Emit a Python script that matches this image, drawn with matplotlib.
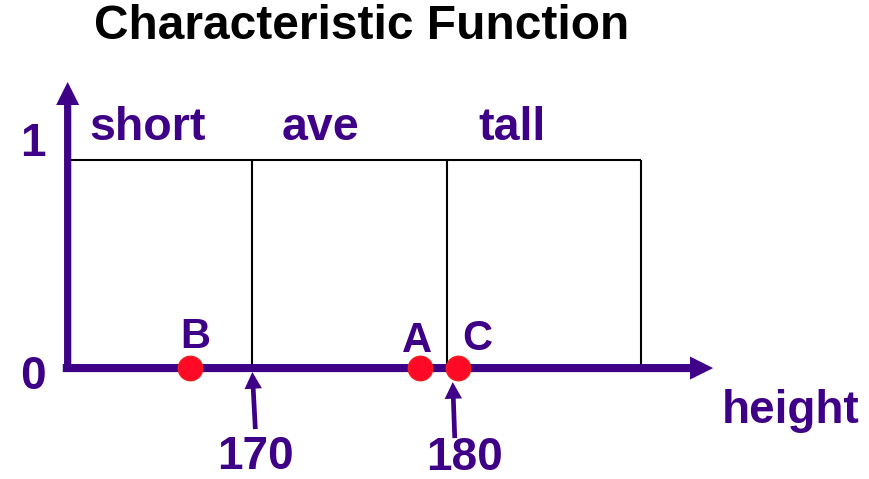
import matplotlib
matplotlib.use("Agg")
import matplotlib.pyplot as plt
from matplotlib.patches import FancyArrowPatch
from matplotlib.transforms import offset_copy

# ---- data -------------------------------------------------------------
categories = ["short", "ave", "tall"]
bin_edges = [160.5, 170, 180, 190]          # height bins (cm); first edge is the axis origin
edge_labels = ["170", "180"]                 # boundaries marked under the axis
edge_label_values = [170, 180]
point_names = ["B", "A", "C"]
point_heights = [166.8, 178.6, 180.6]
point_values = [0, 0, 0]
y_ticks = [0, 1]
y_tick_labels = ["0", "1"]
x_axis_end = 193.7
y_axis_end = 1.372

# ---- style ------------------------------------------------------------
PURPLE = "#3f0088"
RED = "#ff0a26"
FONT = "Liberation Sans"

fig = plt.figure(figsize=(8.69, 4.79), dpi=100)
ax = fig.add_axes([0, 0, 1, 1])
ax.set_xlim(157.02, 201.72)
ax.set_ylim(-0.532, 1.765)
ax.axis("off")


def px(dx, dy):
    """Transform: data coordinates shifted by (dx, dy) pixels."""
    return offset_copy(ax.transData, fig=fig, x=dx, y=dy, units="dots")


def arrow(start, end, tail_w, head_w, head_l, zorder=3):
    style = f"simple,head_length={head_l},head_width={head_w},tail_width={tail_w}"
    p = FancyArrowPatch(start, end, arrowstyle=style, mutation_scale=1,
                        shrinkA=0, shrinkB=0, color=PURPLE, lw=0, zorder=zorder)
    ax.add_patch(p)


# characteristic function boxes (value 1 across each bin)
origin = bin_edges[0]
ax.plot([bin_edges[0], bin_edges[-1]], [1, 1], color="black", lw=1.5, zorder=1,
        solid_capstyle="butt")
for e in bin_edges[1:]:
    ax.plot([e, e], [0, 1], color="black", lw=1.5, zorder=1, solid_capstyle="butt")

# axes with arrow heads
arrow((origin - 0.25, 0), (x_axis_end, 0), 5.8, 16.6, 16.6)
arrow((origin, -0.019), (origin, y_axis_end), 5.2, 16.6, 16.6)

label_kw = dict(fontfamily=FONT, fontweight="bold", color=PURPLE)

# category names above each bin
cat_offsets = [22, 29, 32]
for name, e, off in zip(categories, bin_edges[:-1], cat_offsets):
    ax.text(e, 1, name, transform=px(off, 19.5), ha="left", va="baseline",
            fontsize=33.5, **label_kw)

# y tick labels
tick_shift = {0: -9, 1: 16}
for v, t in zip(y_ticks, y_tick_labels):
    ax.text(origin, v, t, transform=px(-34.5, tick_shift[v]), ha="center",
            va="center", fontsize=33, **label_kw)

# axis name
ax.text(x_axis_end, 0, "height", transform=px(9, -55), ha="left",
        va="baseline", fontsize=33, **label_kw)

# boundary labels with small pointer arrows
edge_arrow = {170: ((3, -61), (0, -4), (3, -89)),
              180: ((8, -70), (6, -14), (18, -90))}
for v, t in zip(edge_label_values, edge_labels):
    tail, tip, txt = edge_arrow[v]
    tail_d = ax.transData.inverted().transform(px(*tail).transform((v, 0)))
    tip_d = ax.transData.inverted().transform(px(*tip).transform((v, 0)))
    arrow(tuple(tail_d), tuple(tip_d), 3.4, 12.5, 12)
    ax.text(v, 0, t, transform=px(*txt), ha="center", va="center",
            fontsize=33, **label_kw)

# sample points
ax.plot(point_heights, point_values, "o", ms=17.6, color=RED, mec="#f02020",
        mew=1, zorder=5)
name_offsets = [(5, 31), (-3, 27), (19, 29)]
for n, h, v, off in zip(point_names, point_heights, point_values, name_offsets):
    ax.text(h, v, n, transform=px(*off), ha="center", va="center",
            fontsize=30, **label_kw)

# title
fig.text(361.5 / 869, 1 - 39 / 479, "Characteristic Function", ha="center",
         va="baseline", fontsize=34.5, fontfamily=FONT, fontweight="bold",
         color="black")

fig.savefig("out.png", dpi=100)
